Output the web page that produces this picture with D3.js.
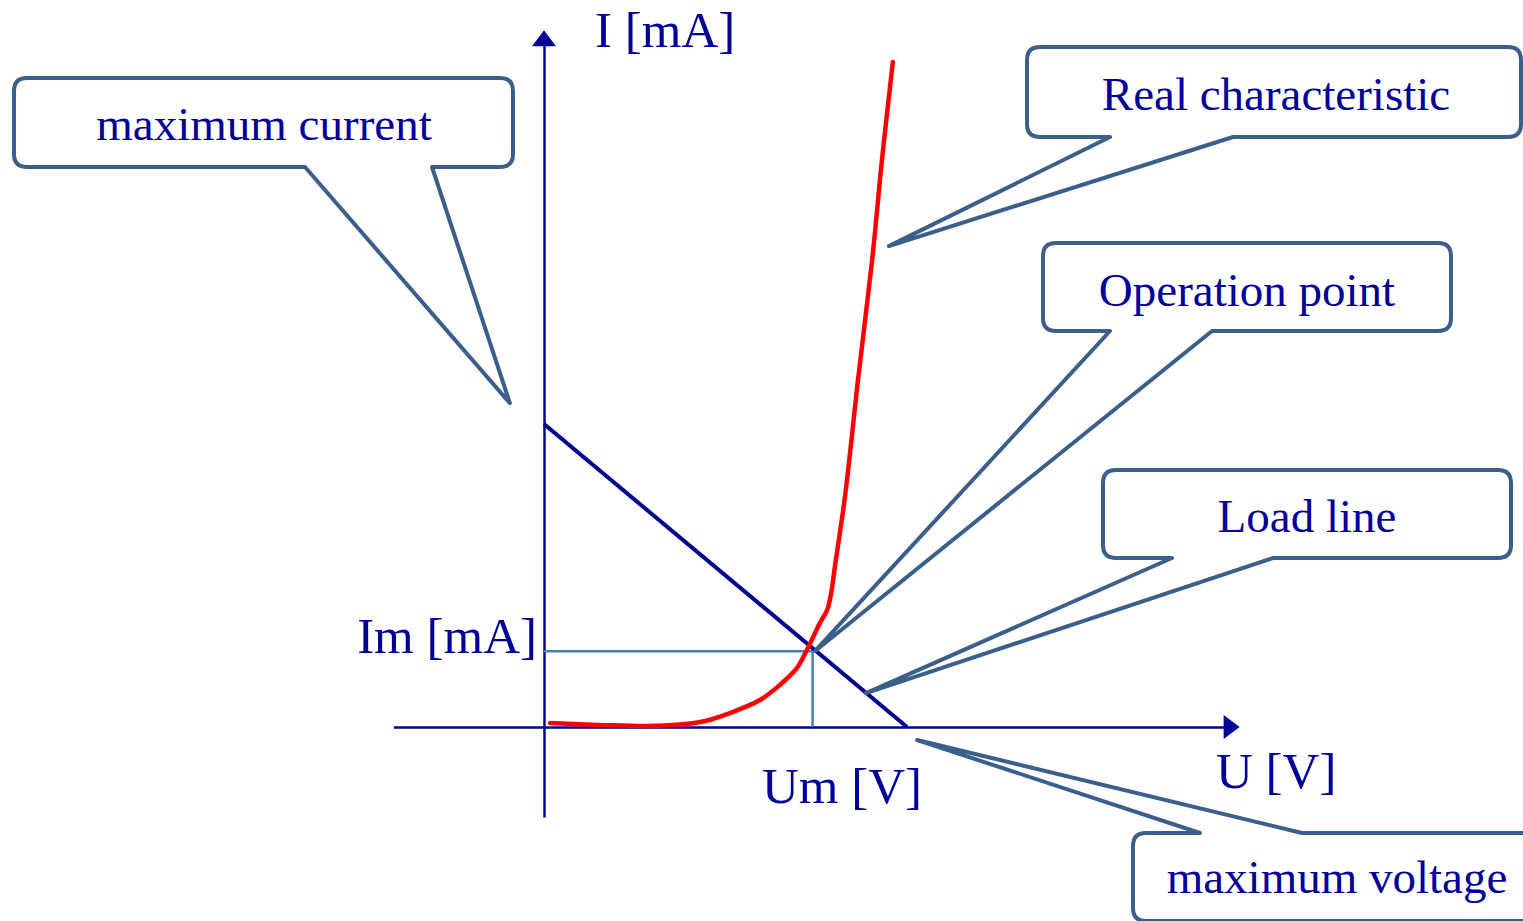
<!DOCTYPE html>
<html>
<head>
<meta charset="utf-8">
<script src="https://cdn.jsdelivr.net/npm/d3@7"></script>
<style>
  html, body { margin: 0; padding: 0; background: #ffffff; }
  svg { display: block; }
  text { font-family: "Liberation Serif", "Times New Roman", serif; }
</style>
</head>
<body>
<svg id="chart" width="1523" height="921"></svg>
<script>
// ---------------- DATA ----------------
// Red "real characteristic" curve (U [V], I [mA])
const curveU = [0.17, 1.54, 2.84, 3.75, 4.44, 5.12, 5.95, 6.50, 6.97, 7.27, 7.60, 7.80, 7.91, 8.02, 8.29, 8.65, 9.04, 9.31, 9.61];
const curveI = [0.13, 0.07, 0.03, 0.08, 0.20, 0.46, 0.89, 1.39, 1.95, 2.61, 3.43, 3.86, 4.42, 5.35, 7.59, 11.45, 15.41, 18.71, 21.95];

// Load line: maximum current (U=0) to maximum voltage (I=0)
const maxCurrent = 10;
const maxVoltage = 10;

// Operation point
const opU = 7.4;
const opI = 2.5;

// Axis extents (data units)
const uAxisExtent = [-4.15, 18.75];
const iAxisExtent = [-2.97, 22.5];

// Axis labels
const axisLabels = ["I [mA]", "U [V]", "Im [mA]", "Um [V]"];

// Callout texts and the points (data units) they point at
const calloutTexts = ["maximum current", "Real characteristic", "Operation point", "Load line", "maximum voltage"];
const calloutTargetU = [-0.94, 9.50, 7.47, 8.87, 10.28];
const calloutTargetI = [10.69, 15.87, 2.51, 1.12, -0.43];

// ---------------- LAYOUT ----------------
const svg = d3.select("#chart");
const x = d3.scaleLinear().domain([0, 10]).range([544, 907]);
const y = d3.scaleLinear().domain([0, 10]).range([727, 424]);

const navy = "#000099";
const calloutStroke = "#3B5F8A";
const guideColor = "#4A7EBB";

// Callout box layout: [left, top, right, bottom], pointer base edge and base x positions
const calloutBoxes = [
  { box: [14, 78, 513, 167], edge: "bottom", base: [305, 432], tx: 264, ty: 140 },
  { box: [1027, 47, 1521, 137], edge: "bottom", base: [1110, 1233], tx: 1276, ty: 110 },
  { box: [1043, 243, 1451, 331], edge: "bottom", base: [1110, 1212], tx: 1247, ty: 306 },
  { box: [1103, 470, 1511, 558], edge: "bottom", base: [1172, 1273], tx: 1307, ty: 532 },
  { box: [1133, 833, 1541, 921], edge: "top", base: [1200, 1302], tx: 1337, ty: 893 }
];

// ---------------- AXES ----------------
const xAxisScale = d3.scaleLinear().domain(uAxisExtent).range(uAxisExtent.map(x));
const yAxisScale = d3.scaleLinear().domain(iAxisExtent).range(iAxisExtent.map(y));

const gx = svg.append("g").attr("transform", `translate(0,${y(0)})`)
  .call(d3.axisBottom(xAxisScale).tickValues([]).tickSizeOuter(0));
gx.select(".domain").attr("stroke", navy).attr("stroke-width", 2.5);

const gy = svg.append("g").attr("transform", `translate(${x(0)},0)`)
  .call(d3.axisLeft(yAxisScale).tickValues([]).tickSizeOuter(0));
gy.select(".domain").attr("stroke", navy).attr("stroke-width", 2.5);

// arrow heads
const xe = x(uAxisExtent[1]), ye = y(iAxisExtent[1]);
svg.append("path")
  .attr("d", `M${xe - 1},${y(0) - 12} L${xe + 15},${y(0)} L${xe - 1},${y(0) + 12} Z`)
  .attr("fill", navy);
svg.append("path")
  .attr("d", `M${x(0) - 12},${ye + 1} L${x(0)},${ye - 15} L${x(0) + 12},${ye + 1} Z`)
  .attr("fill", navy);

// ---------------- GUIDES to operation point ----------------
svg.append("line")
  .attr("x1", x(0)).attr("y1", y(opI)).attr("x2", x(opU)).attr("y2", y(opI))
  .attr("stroke", guideColor).attr("stroke-width", 2.5);
svg.append("line")
  .attr("x1", x(opU)).attr("y1", y(opI)).attr("x2", x(opU)).attr("y2", y(0))
  .attr("stroke", guideColor).attr("stroke-width", 2.5);

// ---------------- LOAD LINE ----------------
svg.append("line")
  .attr("x1", x(0)).attr("y1", y(maxCurrent))
  .attr("x2", x(maxVoltage)).attr("y2", y(0))
  .attr("stroke", "#00008F").attr("stroke-width", 4);

// ---------------- REAL CHARACTERISTIC ----------------
const curveData = curveU.map((u, i) => [u, curveI[i]]);
svg.append("path")
  .datum(curveData)
  .attr("d", d3.line().x(d => x(d[0])).y(d => y(d[1])).curve(d3.curveCatmullRom.alpha(0.5)))
  .attr("fill", "none")
  .attr("stroke", "#FF0000")
  .attr("stroke-width", 4.5)
  .attr("stroke-linecap", "round")
  .attr("stroke-linejoin", "round");

// ---------------- AXIS LABELS ----------------
const labelPos = [
  { x: 595, y: 47, anchor: "start" },
  { x: 1216, y: 788, anchor: "start" },
  { x: 537, y: 653, anchor: "end" },
  { x: 762, y: 803, anchor: "start" }
];
svg.selectAll("text.axislabel").data(axisLabels).enter().append("text")
  .attr("class", "axislabel")
  .attr("x", (d, i) => labelPos[i].x)
  .attr("y", (d, i) => labelPos[i].y)
  .attr("text-anchor", (d, i) => labelPos[i].anchor)
  .attr("font-size", 51)
  .attr("fill", navy)
  .text(d => d);

// ---------------- CALLOUTS ----------------
function calloutPath(c, tip) {
  const [l, t, r, b] = c.box;
  const rad = 13;
  const [b0, b1] = c.base;
  const p = d3.path();
  if (c.edge === "bottom") {
    p.moveTo(l + rad, t);
    p.lineTo(r - rad, t);
    p.quadraticCurveTo(r, t, r, t + rad);
    p.lineTo(r, b - rad);
    p.quadraticCurveTo(r, b, r - rad, b);
    p.lineTo(b1, b);
    p.lineTo(tip[0], tip[1]);
    p.lineTo(b0, b);
    p.lineTo(l + rad, b);
    p.quadraticCurveTo(l, b, l, b - rad);
    p.lineTo(l, t + rad);
    p.quadraticCurveTo(l, t, l + rad, t);
  } else {
    p.moveTo(l + rad, t);
    p.lineTo(b0, t);
    p.lineTo(tip[0], tip[1]);
    p.lineTo(b1, t);
    p.lineTo(r - rad, t);
    p.quadraticCurveTo(r, t, r, t + rad);
    p.lineTo(r, b - rad);
    p.quadraticCurveTo(r, b, r - rad, b);
    p.lineTo(l + rad, b);
    p.quadraticCurveTo(l, b, l, b - rad);
    p.lineTo(l, t + rad);
    p.quadraticCurveTo(l, t, l + rad, t);
  }
  p.closePath();
  return p.toString();
}

const callouts = svg.selectAll("g.callout").data(calloutTexts).enter().append("g").attr("class", "callout");
callouts.append("path")
  .attr("d", (d, i) => calloutPath(calloutBoxes[i], [x(calloutTargetU[i]), y(calloutTargetI[i])]))
  .attr("fill", "#ffffff")
  .attr("fill-opacity", 0)
  .attr("stroke", calloutStroke)
  .attr("stroke-width", 4)
  .attr("stroke-linejoin", "round");
callouts.append("text")
  .attr("x", (d, i) => calloutBoxes[i].tx)
  .attr("y", (d, i) => calloutBoxes[i].ty)
  .attr("text-anchor", "middle")
  .attr("font-size", 47)
  .attr("fill", navy)
  .text(d => d);
</script>
</body>
</html>
